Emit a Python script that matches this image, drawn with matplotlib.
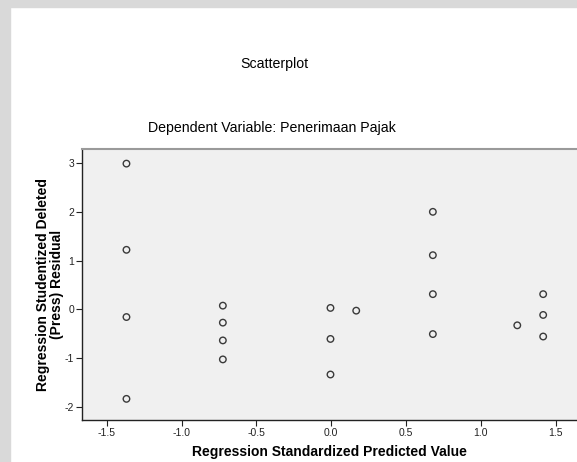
"""SPSS-style residual scatterplot: studentized deleted residual vs standardized predicted value."""

import matplotlib

matplotlib.use("Agg")
import matplotlib.pyplot as plt
from matplotlib.patches import Rectangle

plt.rcParams["font.family"] = ["Liberation Sans", "DejaVu Sans"]
plt.rcParams["axes.unicode_minus"] = False

# standardized predicted value (x) and studentized deleted residual (y)
pred_std = [
    -1.368, -1.368, -1.368, -1.368,
    -0.724, -0.724, -0.724, -0.724,
    -0.005, -0.005, -0.005,
    0.167,
    0.679, 0.679, 0.679, 0.679,
    1.243,
    1.416, 1.416, 1.416,
]
resid_del = [
    2.99, 1.22, -0.16, -1.84,
    0.074, -0.275, -0.64, -1.03,
    0.027, -0.61, -1.34,
    -0.029,
    2.00, 1.11, 0.31, -0.51,
    -0.33,
    0.31, -0.117, -0.56,
]
x_ticks = [-1.5, -1.0, -0.5, 0.0, 0.5, 1.0, 1.5]
y_ticks = [-2, -1, 0, 1, 2, 3]

W, H = 577, 462
fig = plt.figure(figsize=(W / 100, H / 100), dpi=100)
fig.patch.set_facecolor("white")

# grey screenshot border on the left and top
fig.patches.append(Rectangle((0, 0), 10 / W, 1, transform=fig.transFigure,
                             color="#d9d9d9", zorder=0))
fig.patches.append(Rectangle((0, 1 - 7 / H), 1, 7 / H, transform=fig.transFigure,
                             color="#d9d9d9", zorder=0))

ax = fig.add_axes([82 / W, 42 / H, 1 - 82 / W, (420 - 149) / H])
ax.set_facecolor("#f0f0f0")
ax.scatter(pred_std, resid_del, s=22, facecolors="none", edgecolors="#3a3a3a",
           linewidths=1.0, zorder=3)

ax.set_xlim(-1.665, 1.642)
ax.set_ylim(-2.274, 3.29)
ax.set_xticks(x_ticks)
ax.set_xticklabels([f"{v:.1f}" for v in x_ticks])
ax.set_yticks(y_ticks)
ax.set_yticklabels([str(v) for v in y_ticks])
ax.tick_params(direction="out", length=4, width=0.8, labelsize=7.5,
               colors="#222222", pad=1.5)

for side in ("left", "bottom"):
    ax.spines[side].set_color("#222222")
    ax.spines[side].set_linewidth(1.0)
ax.spines["top"].set_color("#9a9a9a")
ax.spines["top"].set_linewidth(1.5)
ax.spines["right"].set_visible(False)

ax.set_xlabel("Regression Standardized Predicted Value", fontsize=10,
              fontweight="bold", labelpad=5)
ax.set_ylabel("Regression Studentized Deleted\n(Press) Residual", fontsize=10,
              fontweight="bold", labelpad=0.5, linespacing=1.0)

fig.text(274 / W, 1 - 64 / H, "Scatterplot", ha="center", va="center", fontsize=10.2)
fig.text(272 / W, 1 - 128 / H, "Dependent Variable: Penerimaan Pajak",
         ha="center", va="center", fontsize=10.2)

fig.savefig("out.png", dpi=100)
